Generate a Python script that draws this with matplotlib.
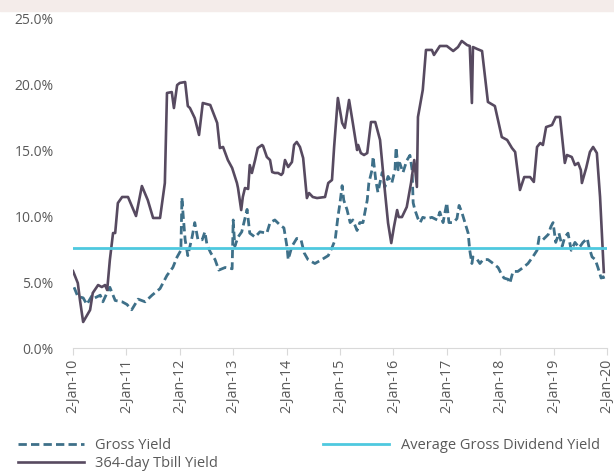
import matplotlib.pyplot as plt
from matplotlib.patches import Rectangle

plt.rcParams['font.family'] = ['Open Sans', 'DejaVu Sans']

# 364-day T-bill yield (decimal year, %)
tbill_t = [2010.00, 2010.09, 2010.13, 2010.19, 2010.32, 2010.37, 2010.47, 2010.54, 2010.60, 2010.64,
           2010.69, 2010.75, 2010.79, 2010.84, 2010.92, 2011.03, 2011.18, 2011.29, 2011.40, 2011.50,
           2011.63, 2011.72, 2011.76, 2011.85, 2011.89, 2011.95, 2012.00, 2012.10, 2012.15, 2012.19,
           2012.28, 2012.36, 2012.43, 2012.57, 2012.70, 2012.75, 2012.81, 2012.90, 2012.98, 2013.07,
           2013.09, 2013.15, 2013.18, 2013.22, 2013.28, 2013.31, 2013.35, 2013.41, 2013.46, 2013.54,
           2013.56, 2013.63, 2013.69, 2013.73, 2013.78, 2013.84, 2013.90, 2013.93, 2013.97, 2014.03,
           2014.10, 2014.14, 2014.19, 2014.25, 2014.31, 2014.38, 2014.42, 2014.49, 2014.57, 2014.72,
           2014.78, 2014.85, 2014.89, 2014.96, 2015.04, 2015.09, 2015.17, 2015.24, 2015.32, 2015.34,
           2015.39, 2015.45, 2015.51, 2015.58, 2015.66, 2015.75, 2015.82, 2015.90, 2015.96, 2016.01,
           2016.07, 2016.10, 2016.16, 2016.25, 2016.33, 2016.39, 2016.44, 2016.46, 2016.55, 2016.61,
           2016.72, 2016.76, 2016.87, 2017.00, 2017.12, 2017.21, 2017.28, 2017.38, 2017.43, 2017.47,
           2017.49, 2017.57, 2017.66, 2017.77, 2017.90, 2018.03, 2018.13, 2018.22, 2018.28, 2018.37,
           2018.45, 2018.56, 2018.63, 2018.69, 2018.75, 2018.80, 2018.86, 2018.97, 2019.04, 2019.12,
           2019.21, 2019.25, 2019.34, 2019.40, 2019.46, 2019.51, 2019.53, 2019.61, 2019.68, 2019.74,
           2019.81, 2019.87, 2019.94]
tbill_v = [5.83, 4.92, 3.64, 1.97, 2.88, 4.17, 4.77, 4.62, 4.77, 4.39,
           6.67, 8.71, 8.71, 10.98, 11.44, 11.44, 10.0, 12.27, 11.21, 9.85,
           9.85, 12.5, 19.32, 19.39, 18.18, 19.92, 20.08, 20.15, 18.33, 18.18,
           17.42, 16.14, 18.56, 18.41, 17.05, 15.15, 15.23, 14.24, 13.64, 12.5,
           12.12, 10.45, 11.44, 12.12, 12.05, 13.86, 13.26, 14.24, 15.15, 15.38,
           15.3, 14.47, 14.24, 13.33, 13.26, 13.26, 13.11, 13.26, 14.24, 13.71,
           14.09, 15.38, 15.61, 15.23, 14.39, 11.36, 11.74, 11.44, 11.36, 11.44,
           12.5, 12.73, 15.23, 18.94, 17.05, 16.67, 18.79, 17.05, 15.0, 15.38,
           14.77, 14.62, 14.77, 17.12, 17.12, 15.76, 12.73, 9.47, 7.95, 9.17,
           10.45, 9.92, 9.92, 10.68, 12.5, 14.24, 12.2, 17.5, 19.55, 22.58,
           22.58, 22.2, 22.88, 22.88, 22.5, 22.8, 23.26, 22.95, 22.88, 18.56,
           22.8, 22.65, 22.5, 18.64, 18.33, 15.98, 15.76, 15.15, 14.85, 11.97,
           12.95, 12.95, 12.58, 15.23, 15.53, 15.38, 16.74, 16.89, 17.5, 17.5,
           14.02, 14.62, 14.47, 13.86, 14.02, 13.48, 12.5, 13.64, 14.85, 15.23,
           14.77, 11.44, 5.76]

# Gross dividend yield (decimal year, %)
gross_t = [2010.02, 2010.09, 2010.19, 2010.26, 2010.36, 2010.41, 2010.51, 2010.56, 2010.64, 2010.69,
           2010.79, 2010.92, 2011.01, 2011.10, 2011.22, 2011.35, 2011.48, 2011.63, 2011.76, 2011.87,
           2011.95, 2012.02, 2012.04, 2012.06, 2012.10, 2012.15, 2012.23, 2012.28, 2012.34, 2012.42,
           2012.47, 2012.51, 2012.58, 2012.66, 2012.73, 2012.85, 2012.98, 2013.00, 2013.03, 2013.09,
           2013.16, 2013.26, 2013.31, 2013.41, 2013.50, 2013.63, 2013.69, 2013.78, 2013.88, 2013.95,
           2014.01, 2014.03, 2014.10, 2014.19, 2014.27, 2014.33, 2014.40, 2014.53, 2014.66, 2014.78,
           2014.85, 2014.91, 2014.96, 2015.00, 2015.04, 2015.07, 2015.13, 2015.19, 2015.24, 2015.32,
           2015.37, 2015.43, 2015.51, 2015.54, 2015.60, 2015.62, 2015.67, 2015.71, 2015.79, 2015.84,
           2015.90, 2015.97, 2016.03, 2016.05, 2016.09, 2016.12, 2016.18, 2016.25, 2016.31, 2016.35,
           2016.37, 2016.40, 2016.46, 2016.50, 2016.55, 2016.63, 2016.72, 2016.82, 2016.87, 2016.93,
           2017.00, 2017.04, 2017.12, 2017.19, 2017.23, 2017.28, 2017.34, 2017.40, 2017.43, 2017.47,
           2017.49, 2017.57, 2017.62, 2017.68, 2017.77, 2017.87, 2017.96, 2018.01, 2018.07, 2018.15,
           2018.18, 2018.24, 2018.33, 2018.43, 2018.52, 2018.61, 2018.69, 2018.73, 2018.80, 2018.90,
           2018.95, 2018.99, 2019.04, 2019.10, 2019.16, 2019.21, 2019.27, 2019.33, 2019.40, 2019.48,
           2019.55, 2019.63, 2019.66, 2019.72, 2019.78, 2019.83, 2019.89, 2019.93, 2019.96]
gross_v = [4.6, 3.9, 3.8, 3.3, 4.0, 3.8, 4.0, 3.5, 4.2, 4.6,
           3.6, 3.5, 3.3, 2.9, 3.7, 3.5, 4.0, 4.5, 5.5, 6.1,
           6.9, 7.4, 11.4, 10.2, 8.2, 7.0, 8.4, 9.5, 8.2, 8.2,
           8.8, 7.8, 7.2, 6.7, 5.9, 6.1, 6.0, 9.7, 7.7, 8.4,
           8.8, 10.5, 8.7, 8.4, 8.8, 8.7, 9.5, 9.7, 9.3, 9.1,
           7.6, 6.7, 7.7, 8.3, 8.2, 7.2, 6.7, 6.4, 6.7, 7.0,
           7.6, 8.2, 9.9, 11.0, 12.3, 11.2, 10.5, 9.5, 9.7, 8.9,
           9.5, 9.5, 11.2, 12.5, 13.5, 14.5, 12.7, 11.8, 13.3, 12.2,
           13.0, 12.5, 13.5, 15.2, 13.5, 14.0, 13.3, 14.2, 14.6, 13.5,
           11.0, 10.5, 9.8, 9.5, 9.9, 9.8, 9.9, 9.7, 10.3, 9.5,
           11.0, 9.5, 9.5, 9.8, 10.8, 10.3, 9.5, 8.7, 7.4, 6.4,
           6.9, 6.7, 6.4, 6.7, 6.7, 6.4, 6.1, 5.7, 5.3, 5.2,
           4.9, 5.8, 5.8, 6.1, 6.4, 6.9, 7.4, 8.4, 8.2, 8.6,
           9.2, 9.5, 8.0, 8.7, 7.7, 8.4, 8.7, 7.4, 8.0, 7.6,
           8.0, 8.3, 7.7, 6.9, 6.7, 6.1, 5.3, 5.4, 5.0]

avg_yield = 7.6
years = list(range(2010, 2021))
year_labels = ['2-Jan-%02d' % (y % 100) for y in years]
y_ticks = [0, 5, 10, 15, 20, 25]

fig = plt.figure(figsize=(6.14, 4.74), dpi=100)
ax = fig.add_axes([73 / 614, 1 - 348 / 474, 534 / 614, 330 / 474])

fig.patches.append(Rectangle((0, 1 - 11 / 474), 1, 11 / 474, transform=fig.transFigure,
                             color='#f4ecea', zorder=0))

ax.plot(gross_t, gross_v, color='#3e7089', lw=2.0, ls=(0, (3, 1.5)), label='Gross Yield')
ax.plot(tbill_t, tbill_v, color='#574a60', lw=1.9, label='364-day Tbill Yield')
ax.axhline(avg_yield, color='#4ec9df', lw=2.0, label='Average Gross Dividend Yield')

ax.set_xlim(2010, 2020)
ax.set_ylim(0, 25)
ax.set_xticks(years)
ax.set_xticklabels(year_labels, rotation=90)
ax.set_yticks(y_ticks)
ax.set_yticklabels(['%.1f%%' % v for v in y_ticks])

for s in ['top', 'right', 'left']:
    ax.spines[s].set_visible(False)
ax.spines['bottom'].set_color('#d9d9d9')
ax.tick_params(axis='y', length=0, pad=14, labelsize=10, labelcolor='#595959')
ax.tick_params(axis='x', length=5, color='#d9d9d9', pad=3, labelsize=10.3, labelcolor='#595959')

fig.legend(loc='upper left', bbox_to_anchor=(0.02, 1 - 432 / 474), ncol=2, frameon=False,
           fontsize=10.5, labelcolor='#595959', handlelength=4.5, columnspacing=7.2,
           labelspacing=0.2, borderaxespad=0)

fig.savefig('out.png', dpi=100)
